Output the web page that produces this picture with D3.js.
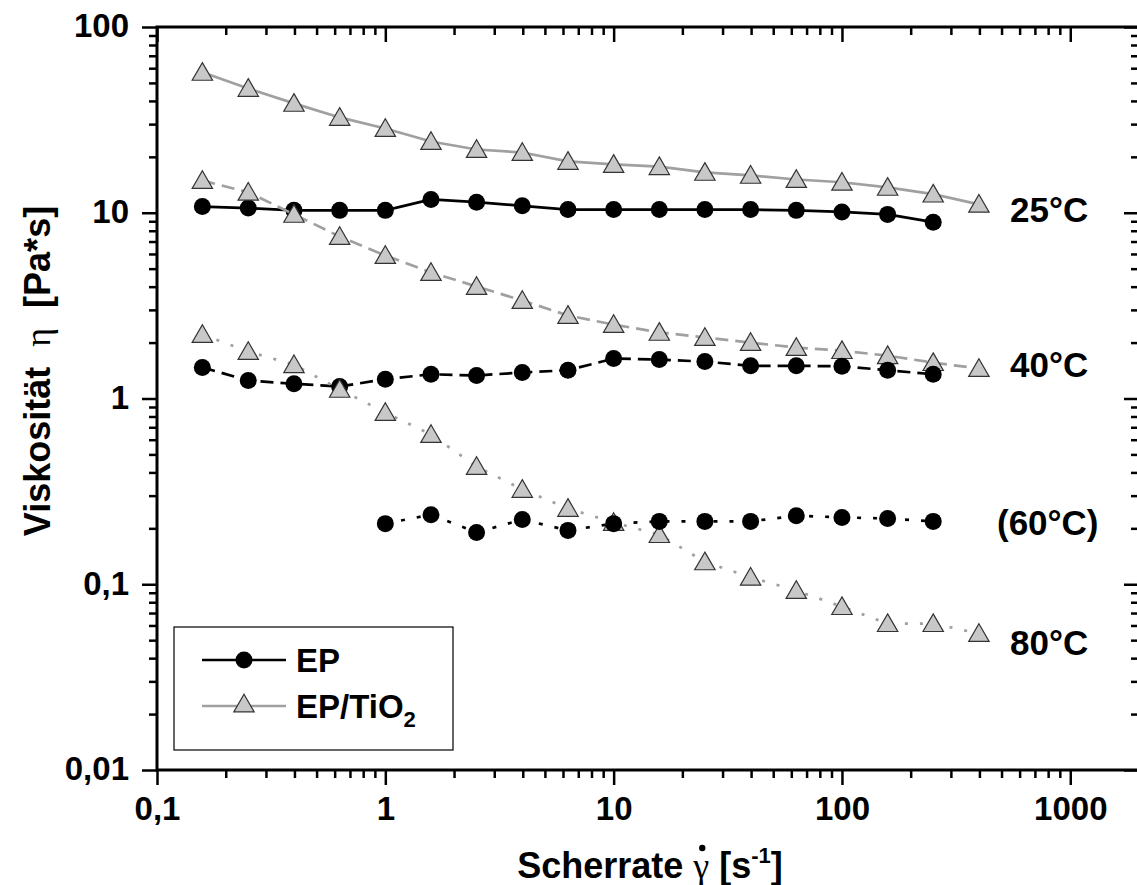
<!DOCTYPE html>
<html>
<head>
    <script src="https://d3js.org/d3.v7.min.js"></script>
    <style>
        body { margin: 0; background: #fff; }
        text { font-family: "Liberation Sans", Arial, sans-serif; font-weight: bold; fill: #000; }
    </style>
</head>
<body>
    <div id="chart"></div>
    <script>
        // shear rates (1/s) and viscosities (Pa*s)
        const rateFull = [0.158, 0.251, 0.398, 0.631, 1, 1.585, 2.51, 3.98, 6.31, 10, 15.85, 25.1, 39.8, 63.1, 100, 158.5, 251, 398];
        const rateEP = [0.158, 0.251, 0.398, 0.631, 1, 1.585, 2.51, 3.98, 6.31, 10, 15.85, 25.1, 39.8, 63.1, 100, 158.5, 251];
        const rateEP60 = [1, 1.585, 2.51, 3.98, 6.31, 10, 15.85, 25.1, 39.8, 63.1, 100, 158.5, 251];

        const ep25 = [10.8, 10.6, 10.3, 10.3, 10.3, 11.8, 11.4, 10.9, 10.4, 10.4, 10.4, 10.4, 10.4, 10.3, 10.1, 9.8, 8.9];
        const tio25 = [57, 46.7, 38.8, 32.6, 28.4, 24.2, 21.9, 21.1, 18.9, 18.2, 17.7, 16.5, 15.9, 15.1, 14.6, 13.7, 12.6, 11.1];
        const ep40 = [1.47, 1.25, 1.2, 1.16, 1.27, 1.35, 1.33, 1.38, 1.42, 1.64, 1.62, 1.58, 1.5, 1.5, 1.49, 1.42, 1.35];
        const tio40 = [14.9, 12.9, 9.8, 7.45, 5.89, 4.77, 4.01, 3.37, 2.8, 2.5, 2.27, 2.13, 2.0, 1.88, 1.81, 1.7, 1.56, 1.45];
        const ep60 = [0.212, 0.237, 0.19, 0.223, 0.195, 0.212, 0.218, 0.218, 0.218, 0.234, 0.229, 0.226, 0.218];
        const tio80 = [2.21, 1.79, 1.52, 1.12, 0.84, 0.64, 0.43, 0.324, 0.256, 0.215, 0.185, 0.132, 0.109, 0.0925, 0.0758, 0.0614, 0.0614, 0.0543];

        const xTicks = [0.1, 1, 10, 100, 1000];
        const xTickLabels = ["0,1", "1", "10", "100", "1000"];
        const yTicks = [0.01, 0.1, 1, 10, 100];
        const yTickLabels = ["0,01", "0,1", "1", "10", "100"];

        const tempLabels = ["25°C", "40°C", "(60°C)", "80°C"];

        const W = 1137, H = 885;
        const pLeft = 157, pRight = 1139, pTop = 27, pBottom = 770;

        const svg = d3.select("#chart").append("svg")
            .attr("width", W).attr("height", H);

        const x = d3.scaleLog().domain([0.1, 2000]).range([pLeft, pRight]);
        const y = d3.scaleLog().domain([0.01, 100]).range([pBottom, pTop]);

        // minor ticks 2..9 per decade
        const minor = (dom) => {
            const out = [];
            for (let d = dom[0]; d < dom[1]; d *= 10)
                for (let k = 2; k <= 9; k++) if (d * k < dom[1]) out.push(d * k);
            return out;
        };
        const xMinor = minor(x.domain());
        const yMinor = minor(y.domain());

        const fmtX = (d) => xTickLabels[xTicks.indexOf(d)];
        const fmtY = (d) => yTickLabels[yTicks.indexOf(d)];

        function styleAxis(g) {
            g.select(".domain").remove();
            g.selectAll("line").attr("stroke", "#000").attr("stroke-width", 2.5);
        }

        // bottom axis (outside) and top axis (inside)
        svg.append("g").attr("transform", `translate(0,${pBottom})`)
            .call(d3.axisBottom(x).tickValues(xTicks).tickSize(15).tickFormat(fmtX).tickPadding(12))
            .call(styleAxis)
            .selectAll("text").style("font-size", "33px").attr("dy", "0.71em");
        svg.append("g").attr("transform", `translate(0,${pBottom})`)
            .call(d3.axisBottom(x).tickValues(xMinor).tickSize(8).tickFormat(""))
            .call(styleAxis);
        svg.append("g").attr("transform", `translate(0,${pTop})`)
            .call(d3.axisBottom(x).tickValues(xTicks).tickSize(15).tickFormat(""))
            .call(styleAxis);
        svg.append("g").attr("transform", `translate(0,${pTop})`)
            .call(d3.axisBottom(x).tickValues(xMinor).tickSize(8).tickFormat(""))
            .call(styleAxis);

        // left axis (outside) and right axis (inside)
        svg.append("g").attr("transform", `translate(${pLeft},0)`)
            .call(d3.axisLeft(y).tickValues(yTicks).tickSize(15).tickFormat(fmtY).tickPadding(13))
            .call(styleAxis)
            .selectAll("text").style("font-size", "33px").attr("dy", "0.3em");
        svg.append("g").attr("transform", `translate(${pLeft},0)`)
            .call(d3.axisLeft(y).tickValues(yMinor).tickSize(8).tickFormat(""))
            .call(styleAxis);
        svg.append("g").attr("transform", `translate(${pRight},0)`)
            .call(d3.axisLeft(y).tickValues(yTicks).tickSize(15).tickFormat(""))
            .call(styleAxis);
        svg.append("g").attr("transform", `translate(${pRight},0)`)
            .call(d3.axisLeft(y).tickValues(yMinor).tickSize(8).tickFormat(""))
            .call(styleAxis);

        // frame
        svg.append("rect")
            .attr("x", pLeft).attr("y", pTop)
            .attr("width", pRight - pLeft).attr("height", pBottom - pTop)
            .attr("fill", "none").attr("stroke", "#000").attr("stroke-width", 3);

        // series
        const grayLine = "#a0a0a0", triFill = "#c8c8c8";
        const series = [
            { rate: rateEP, vals: ep25, kind: "ep", dash: null },
            { rate: rateFull, vals: tio25, kind: "tio", dash: null },
            { rate: rateFull, vals: tio40, kind: "tio", dash: "13,7" },
            { rate: rateEP, vals: ep40, kind: "ep", dash: "13,7" },
            { rate: rateFull, vals: tio80, kind: "tio", dash: "3,12" },
            { rate: rateEP60, vals: ep60, kind: "ep", dash: "4,12" }
        ];

        const tri = d3.symbol().type(d3.symbolTriangle).size(180);

        series.forEach(function (s) {
            const pts = s.rate.map((r, i) => [r, s.vals[i]]);
            svg.append("path")
                .datum(pts)
                .attr("fill", "none")
                .attr("stroke", s.kind === "ep" ? "#000" : grayLine)
                .attr("stroke-width", 2.7)
                .attr("stroke-dasharray", s.dash)
                .attr("d", d3.line().x(d => x(d[0])).y(d => y(d[1])));

            if (s.kind === "ep") {
                svg.selectAll(null).data(pts).enter().append("circle")
                    .attr("cx", d => x(d[0])).attr("cy", d => y(d[1]))
                    .attr("r", 8.5).attr("fill", "#000");
            } else {
                svg.selectAll(null).data(pts).enter().append("path")
                    .attr("d", tri)
                    .attr("transform", d => `translate(${x(d[0])},${y(d[1]) + 2})`)
                    .attr("fill", triFill).attr("stroke", "#333").attr("stroke-width", 1.2);
            }
        });

        // temperature labels
        const tempPos = [[1010, 222], [1010, 377], [997, 535], [1010, 655]];
        tempLabels.forEach(function (t, i) {
            svg.append("text")
                .attr("x", tempPos[i][0]).attr("y", tempPos[i][1])
                .style("font-size", "35px")
                .text(t);
        });

        // legend
        const lg = svg.append("g");
        lg.append("rect")
            .attr("x", 174).attr("y", 627).attr("width", 279).attr("height", 123)
            .attr("fill", "#fff").attr("stroke", "#000").attr("stroke-width", 1.2);
        lg.append("line").attr("x1", 202).attr("x2", 286).attr("y1", 660).attr("y2", 660)
            .attr("stroke", "#000").attr("stroke-width", 2.7);
        lg.append("circle").attr("cx", 244).attr("cy", 660).attr("r", 8.5).attr("fill", "#000");
        lg.append("text").attr("x", 296).attr("y", 672).style("font-size", "33px").text("EP");
        lg.append("line").attr("x1", 202).attr("x2", 286).attr("y1", 706).attr("y2", 706)
            .attr("stroke", grayLine).attr("stroke-width", 2.7);
        lg.append("path").attr("d", tri).attr("transform", "translate(244,706)")
            .attr("fill", triFill).attr("stroke", "#333").attr("stroke-width", 1.2);
        const lt = lg.append("text").attr("x", 296).attr("y", 718).style("font-size", "33px");
        lt.append("tspan").text("EP/TiO");
        lt.append("tspan").attr("dy", 9).style("font-size", "22px").text("2");

        // x axis title
        const xt = svg.append("text")
            .attr("x", 650).attr("y", 878)
            .attr("text-anchor", "middle")
            .style("font-size", "36px")
            .style("white-space", "pre");
        xt.append("tspan").text("Scherrate ");
        xt.append("tspan").style("font-weight", "normal").style("font-family", "'Liberation Serif', serif").text("γ");
        xt.append("tspan").text(" [s");
        xt.append("tspan").attr("dy", -15).style("font-size", "22px").text("-1");
        xt.append("tspan").attr("dy", 15).text("]");
        // dot above gamma (time derivative)
        const gs = xt.node().getStartPositionOfChar(10), ge = xt.node().getEndPositionOfChar(10);
        svg.append("circle")
            .attr("cx", (gs.x + ge.x) / 2 + 1).attr("cy", 878 - 30)
            .attr("r", 3.2).attr("fill", "#000");

        // y axis title
        const yt = svg.append("text")
            .attr("transform", "translate(50,371) rotate(-90)")
            .attr("text-anchor", "middle")
            .style("font-size", "36px")
            .style("white-space", "pre");
        yt.append("tspan").text("Viskosität  ");
        yt.append("tspan").style("font-weight", "normal").style("font-family", "'Liberation Serif', serif").text("η");
        yt.append("tspan").text("  [Pa*s]");
    </script>
</body>
</html>
